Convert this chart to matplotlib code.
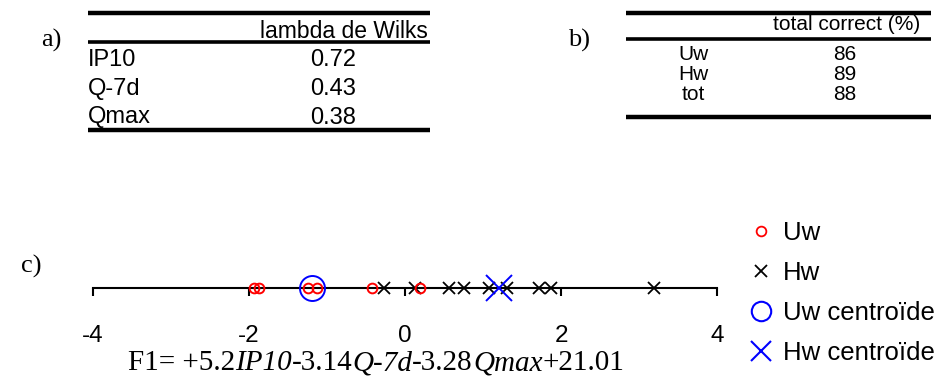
import matplotlib
matplotlib.use("Agg")
import matplotlib.pyplot as plt
from matplotlib.lines import Line2D

# ---------------- data ----------------
wilks_vars = ["IP10", "Q-7d", "Qmax"]
wilks_vals = [0.72, 0.43, 0.38]
wilks_header = "lambda de Wilks"

class_names = ["Uw", "Hw", "tot"]
class_pct = [86, 89, 88]
class_header = "total correct (%)"

uw_scores = [-1.94, -1.87, -1.24, -1.13, -0.42, 0.19]
hw_scores = [-0.27, 0.13, 0.56, 0.76, 1.08, 1.31, 1.72, 1.87, 3.19]
uw_centroid = [-1.19]
hw_centroid = [1.21]

xticks = [-4, -2, 0, 2, 4]
legend_labels = ["Uw", "Hw", "Uw centroïde", "Hw centroïde"]

formula_parts = [("F1= +5.2", "normal"), ("IP10", "italic"), ("-3.14", "normal"),
                 ("Q-7d", "italic"), ("-3.28", "normal"), ("Qmax", "italic"),
                 ("+21.01", "normal")]

SANS = "Liberation Sans"
SERIF = "Liberation Serif"

W, H = 935, 378
fig = plt.figure(figsize=(W / 100, H / 100), dpi=100)

# background axes in pixel coordinates (y downward)
bg = fig.add_axes([0, 0, 1, 1])
bg.set_xlim(0, W)
bg.set_ylim(H, 0)
bg.axis("off")

# ---------------- table a ----------------
bg.text(51, 40, "a)", fontfamily=SERIF, fontsize=19, ha="center", va="center")
bg.plot([88, 430], [12.7, 12.7], color="black", lw=3.2, solid_capstyle="butt")
bg.plot([88, 430], [42.3, 42.3], color="black", lw=2.6, solid_capstyle="butt")
bg.plot([88, 430], [129.5, 129.5], color="black", lw=3.2, solid_capstyle="butt")
bg.text(428, 32, wilks_header, fontfamily=SANS, fontsize=16.5, ha="right", va="center")
for i, (n, v) in enumerate(zip(wilks_vars, wilks_vals)):
    y = 60.5 + i * 28.5
    bg.text(88, y, n, fontfamily=SANS, fontsize=17, ha="left", va="center")
    bg.text(333, y, f"{v:.2f}", fontfamily=SANS, fontsize=17, ha="center", va="center")

# ---------------- table b ----------------
bg.text(579, 40, "b)", fontfamily=SERIF, fontsize=19, ha="center", va="center")
bg.plot([626, 931], [12.7, 12.7], color="black", lw=3.2, solid_capstyle="butt")
bg.plot([626, 931], [38.5, 38.5], color="black", lw=2.6, solid_capstyle="butt")
bg.plot([626, 931], [116.5, 116.5], color="black", lw=3.2, solid_capstyle="butt")
bg.text(920, 25, class_header, fontfamily=SANS, fontsize=15, ha="right", va="center")
for i, (n, v) in enumerate(zip(class_names, class_pct)):
    y = 54 + i * 20.5
    bg.text(693, y, n, fontfamily=SANS, fontsize=15, ha="center", va="center")
    bg.text(845, y, f"{v}", fontfamily=SANS, fontsize=15, ha="center", va="center")

# ---------------- panel c ----------------
bg.text(31, 266, "c)", fontfamily=SERIF, fontsize=19, ha="center", va="center")

x0, x1 = 93, 717
ybase = 287.5
ax = fig.add_axes([x0 / W, (H - ybase) / H, (x1 - x0) / W, 25 / H])
ax.set_xlim(-4, 4)
ax.set_ylim(0, 1)
ax.patch.set_visible(False)
for s in ["top", "left", "right"]:
    ax.spines[s].set_visible(False)
ax.spines["bottom"].set_linewidth(1.5)
ax.set_yticks([])
ax.set_xticks(xticks)
ax.set_xticklabels([str(t) for t in xticks])
ax.tick_params(axis="x", direction="out", length=6, width=1.5, pad=21,
               labelsize=17.5)
for lab in ax.get_xticklabels():
    lab.set_fontfamily(SANS)

ax.plot(hw_scores, [0] * len(hw_scores), ls="none", marker="x", color="black",
        markersize=9, markeredgewidth=1.3, clip_on=False, zorder=3)
ax.plot(uw_scores, [0] * len(uw_scores), ls="none", marker="o", mfc="none",
        mec="red", markersize=7, markeredgewidth=1.4, clip_on=False, zorder=4)
ax.plot(uw_centroid, [0] * len(uw_centroid), ls="none", marker="o", mfc="none",
        mec="blue", markersize=18, markeredgewidth=1.4, clip_on=False, zorder=5)
ax.plot(hw_centroid, [0] * len(hw_centroid), ls="none", marker="x", color="blue",
        markersize=19, markeredgewidth=1.4, clip_on=False, zorder=5)

handles = [
    Line2D([], [], ls="none", marker="o", mfc="none", mec="red", markersize=7, markeredgewidth=1.3),
    Line2D([], [], ls="none", marker="x", color="black", markersize=9, markeredgewidth=1.3),
    Line2D([], [], ls="none", marker="o", mfc="none", mec="blue", markersize=14, markeredgewidth=1.5),
    Line2D([], [], ls="none", marker="x", color="blue", markersize=15, markeredgewidth=1.5),
]
leg = fig.legend(handles, legend_labels, loc="upper left",
                 bbox_to_anchor=(748 / W, (H - 221) / H), frameon=False,
                 prop={"family": SANS, "size": 18.5}, handlelength=1.0,
                 handletextpad=0.35, labelspacing=0.62, borderpad=0,
                 borderaxespad=0)

# ---------------- formula ----------------
fig.canvas.draw()
renderer = fig.canvas.get_renderer()
pieces = []
for txt, style in formula_parts:
    t = bg.text(0, 370.5, txt, fontfamily=SERIF, fontstyle=style, fontsize=21,
                ha="left", va="baseline")
    pieces.append(t)
widths = [p.get_window_extent(renderer).width for p in pieces]
total = sum(widths)
xc = 376 - total / 2
for p, w in zip(pieces, widths):
    p.set_x(xc)
    xc += w

fig.savefig("out.png", dpi=100)
